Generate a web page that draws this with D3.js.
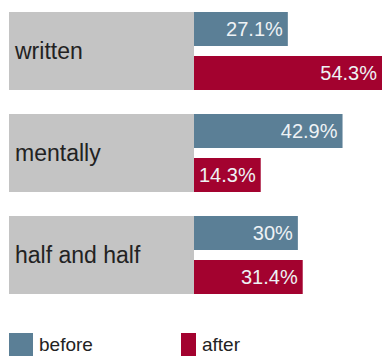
<!DOCTYPE html>
<html>
<head>
<meta charset="utf-8">
<script src="https://cdn.jsdelivr.net/npm/d3@7"></script>
<style>
  body { margin: 0; background: #fff; }
  svg { display: block; font-family: "Liberation Sans", Arial, Helvetica, sans-serif; }
</style>
</head>
<body>
<svg id="chart" width="382" height="356"></svg>
<script>
// data
const categories = ["written", "mentally", "half and half"];
const seriesNames = ["before", "after"];
const beforeValues = [27.1, 42.9, 30];
const afterValues = [54.3, 14.3, 31.4];

const colors = { before: "#5b7f96", after: "#a3022f" };
const catBox = "#c4c4c4";

const svg = d3.select("#chart");
const boxLeft = 9, barLeft = 194;

const y = d3.scaleBand()
  .domain(categories)
  .range([12, 294])
  .paddingInner(24 / 102)
  .paddingOuter(0);

const ySeries = d3.scaleBand()
  .domain(seriesNames)
  .range([0, y.bandwidth()])
  .paddingInner(10 / 44);

const x = d3.scaleLinear()
  .domain([0, 54.3])
  .range([0, 188]);

const rows = categories.map((c, i) => ({
  cat: c,
  values: [
    { key: "before", value: beforeValues[i] },
    { key: "after", value: afterValues[i] }
  ]
}));

const groups = svg.selectAll(".row")
  .data(rows)
  .enter()
  .append("g")
  .attr("class", "row")
  .attr("transform", d => `translate(0,${y(d.cat)})`);

// grey category box
groups.append("rect")
  .attr("x", boxLeft)
  .attr("y", 0)
  .attr("width", barLeft - boxLeft)
  .attr("height", y.bandwidth())
  .attr("fill", catBox);

groups.append("text")
  .attr("x", 15)
  .attr("y", y.bandwidth() / 2 + 8)
  .attr("font-size", 23)
  .attr("fill", "#222")
  .text(d => d.cat);

// bars + value labels
groups.each(function (d) {
  const g = d3.select(this);
  d.values.forEach(v => {
    const rect = g.append("rect")
      .attr("x", barLeft)
      .attr("y", ySeries(v.key))
      .attr("height", ySeries.bandwidth())
      .attr("fill", colors[v.key]);
    const label = g.append("text")
      .attr("y", ySeries(v.key) + ySeries.bandwidth() / 2 + 7)
      .attr("text-anchor", "end")
      .attr("font-size", 20)
      .attr("fill", "#eef2f5")
      .text(v.value + "%");
    // bar never narrower than its label
    const w = Math.max(x(v.value), label.node().getComputedTextLength() + 10);
    rect.attr("width", w);
    label.attr("x", barLeft + w - 5);
  });
});

// legend
const legendX = { before: 9, after: 181 };
const swatchW = { before: 24, after: 15 };
const legend = svg.selectAll(".legend")
  .data(seriesNames)
  .enter()
  .append("g")
  .attr("class", "legend")
  .attr("transform", d => `translate(${legendX[d]},333)`);

legend.append("rect")
  .attr("width", d => swatchW[d])
  .attr("height", 23)
  .attr("fill", d => colors[d]);

legend.append("text")
  .attr("x", d => swatchW[d] + 6)
  .attr("y", 18)
  .attr("font-size", 19)
  .attr("fill", "#222")
  .text(d => d);
</script>
</body>
</html>
